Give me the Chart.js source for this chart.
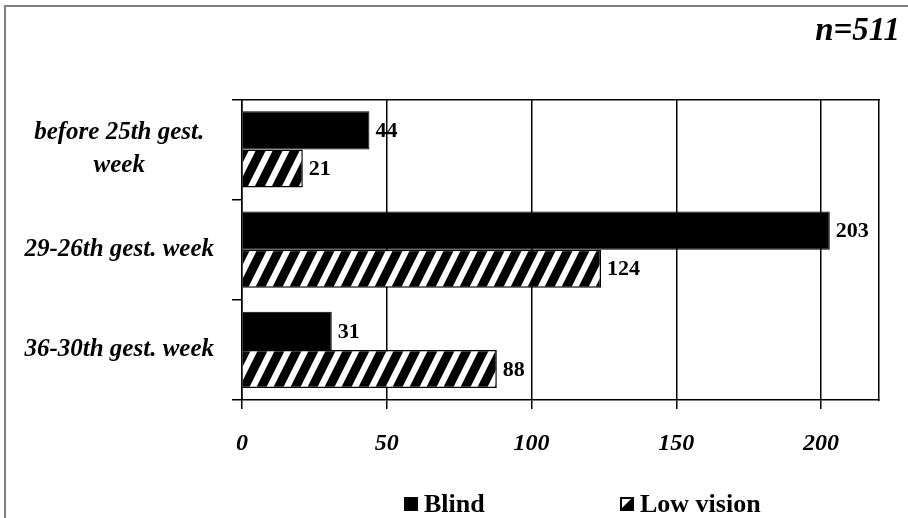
<!DOCTYPE html>
<html>
<head>
<meta charset="utf-8">
<script src="https://cdn.jsdelivr.net/npm/chart.js@4/dist/chart.umd.min.js"></script>
<style>
  body { margin: 0; background: #fff; overflow: hidden; }
  #frame { position: absolute; left: 4px; top: 5px; width: 1000px; height: 1000px; border: 2px solid #7f7f7f; }
  #wrap { position: absolute; left: 0; top: 0; width: 908px; height: 518px; }
</style>
</head>
<body>
<div id="frame"></div>
<div id="wrap"><canvas id="weeksChart" width="908" height="518"></canvas></div>
<script>
var categories = [["before 25th gest.", "week"], "29-26th gest. week", "36-30th gest. week"];
var blindCounts = [44, 203, 31];
var lowVisionCounts = [21, 124, 88];
var seriesNames = ["Blind", "Low vision"];
var sampleNote = "n=511";
var axisMax = 220;
var axisStep = 50;

var serif = "'Liberation Serif', 'Times New Roman', serif";

function makeHatch(){
  var c = document.createElement('canvas');
  c.width = 17;
  c.height = 34;
  var g = c.getContext('2d');
  g.fillStyle = '#000';
  g.fillRect(0, 0, 17, 34);
  g.fillStyle = '#fff';
  for (var k = -1; k <= 1; k++) {
    var x0 = k * 17 + 1;
    g.beginPath();
    g.moveTo(x0, 34);
    g.lineTo(x0 + 7, 34);
    g.lineTo(x0 + 24, 0);
    g.lineTo(x0 + 17, 0);
    g.closePath();
    g.fill();
  }
  return g.createPattern(c, 'repeat');
}

function makeLegendHatch(){
  var c = document.createElement('canvas');
  c.width = 14;
  c.height = 14;
  var g = c.getContext('2d');
  g.fillStyle = '#000';
  g.fillRect(0, 0, 14, 14);
  g.fillStyle = '#fff';
  g.beginPath();
  g.moveTo(2, 2);
  g.lineTo(11, 2);
  g.lineTo(2, 11);
  g.closePath();
  g.fill();
  return g.createPattern(c, 'no-repeat');
}

var hatch = makeHatch();
var legendHatch = makeLegendHatch();

// numbers next to each bar end
var valueLabels = {
  id: 'valueLabels',
  afterDatasetsDraw: function(chart){
    var ctx = chart.ctx;
    ctx.save();
    ctx.font = 'bold 22px ' + serif;
    ctx.fillStyle = '#000';
    ctx.textAlign = 'left';
    ctx.textBaseline = 'middle';
    chart.data.datasets.forEach(function(ds, i){
      chart.getDatasetMeta(i).data.forEach(function(bar, j){
        ctx.fillText(ds.data[j], bar.x + 6, bar.y + 1);
      });
    });
    ctx.restore();
  }
};

// legend sits off-centre in the original, so it is drawn here
var legendX = [404, 620];
var bottomLegend = {
  id: 'bottomLegend',
  afterDraw: function(chart){
    var ctx = chart.ctx;
    var y = 504;
    ctx.save();
    ctx.font = 'bold 26px ' + serif;
    ctx.textBaseline = 'middle';
    ctx.textAlign = 'left';
    chart.data.datasets.forEach(function(ds, i){
      var x = legendX[i];
      ctx.save();
      ctx.translate(x, y - 7);
      ctx.fillStyle = i === 1 ? legendHatch : ds.backgroundColor;
      ctx.fillRect(0, 0, 14, 14);
      ctx.strokeStyle = '#000';
      ctx.lineWidth = 1.5;
      ctx.strokeRect(0.75, 0.75, 12.5, 12.5);
      ctx.restore();
      ctx.fillStyle = '#000';
      ctx.fillText(ds.label, x + 20, y + 1);
    });
    ctx.restore();
  }
};

var ctx = document.getElementById('weeksChart').getContext('2d');
var chart = new Chart(ctx, {
  type: 'bar',
  data: {
    labels: categories,
    datasets: [
      {
        label: seriesNames[0],
        data: blindCounts,
        backgroundColor: '#000',
        borderColor: '#000',
        borderWidth: 1,
        categoryPercentage: 0.76,
        barPercentage: 1
      },
      {
        label: seriesNames[1],
        data: lowVisionCounts,
        backgroundColor: hatch,
        borderColor: '#000',
        borderWidth: 1.5,
        categoryPercentage: 0.76,
        barPercentage: 1
      }
    ]
  },
  options: {
    indexAxis: 'y',
    responsive: false,
    animation: false,
    layout: { padding: { left: 8, right: 8, top: 0, bottom: 0 } },
    plugins: {
      legend: { display: false },
      tooltip: { enabled: false },
      title: {
        display: true,
        text: sampleNote,
        align: 'end',
        color: '#000',
        font: { family: serif, size: 33, weight: 'bold', style: 'italic', lineHeight: 1.25 },
        padding: { top: 11, bottom: 0 }
      }
    },
    scales: {
      x: {
        type: 'linear',
        min: 0,
        max: axisMax,
        position: 'bottom',
        afterFit: function(s){ s.height = 118; },
        grid: { color: '#000', lineWidth: 1.5, tickLength: 9 },
        border: { display: true, color: '#000', width: 1.5 },
        ticks: {
          stepSize: axisStep,
          includeBounds: false,
          color: '#000',
          padding: 20,
          font: { family: serif, size: 24, weight: 'bold', style: 'italic' }
        }
      },
      x2: {
        type: 'linear',
        min: 0,
        max: axisMax,
        position: 'top',
        afterFit: function(s){ s.height = 47; },
        grid: { display: false },
        ticks: { display: false },
        border: { display: true, color: '#000', width: 1.5 }
      },
      y: {
        position: 'left',
        afterFit: function(s){ s.width = 234; },
        grid: { drawOnChartArea: false, color: '#000', lineWidth: 1.5, tickLength: 10 },
        border: { display: true, color: '#000', width: 1.5 },
        ticks: {
          color: '#000',
          crossAlign: 'center',
          padding: 18,
          font: { family: serif, size: 25, weight: 'bold', style: 'italic', lineHeight: 1.32 }
        }
      },
      y2: {
        type: 'linear',
        min: 0,
        max: 1,
        position: 'right',
        afterFit: function(s){ s.width = 21; },
        grid: { display: false },
        ticks: { display: false },
        border: { display: true, color: '#000', width: 1.5 }
      }
    }
  },
  plugins: [valueLabels, bottomLegend]
});
</script>
</body>
</html>
